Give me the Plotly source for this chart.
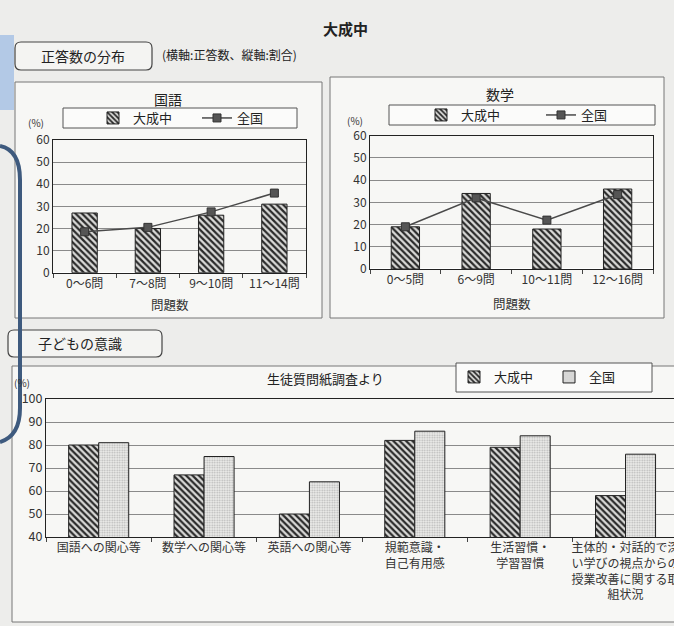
import plotly.graph_objects as go

W, H = 674, 626
FONT = "Noto Sans CJK JP"

# ---------------- data ----------------
kokugo_cats = ["0〜6問", "7〜8問", "9〜10問", "11〜14問"]
kokugo_school = [27, 20, 26, 31]
kokugo_nation = [18.5, 20.5, 27.5, 36]

math_cats = ["0〜5問", "6〜9問", "10〜11問", "12〜16問"]
math_school = [19, 34, 18, 36]
math_nation = [19, 32, 22, 33.5]

survey_cats = ["国語への関心等", "数学への関心等", "英語への関心等",
               "規範意識・<br>自己有用感", "生活習慣・<br>学習習慣",
               "主体的・対話的で深<br>い学びの視点からの<br>授業改善に関する取<br>組状況"]
survey_school = [80, 67, 50, 82, 79, 58]
survey_nation = [81, 75, 64, 86, 84, 76]

school_name = "大成中"
nation_name = "全国"


def X(px):
    return px / W


def Y(py):
    return 1 - py / H


hatch = dict(shape="\\", fgcolor="#2a2a2a", bgcolor="#dcdcda", size=4.5, solidity=0.5, fillmode="replace")
dots = dict(shape=".", fgcolor="#b4b4b4", bgcolor="#eeeeec", size=2.5, solidity=0.4, fillmode="replace")

fig = go.Figure()

fig.add_trace(go.Bar(x=kokugo_cats, y=kokugo_school, name=school_name, width=0.4,
                     marker=dict(pattern=hatch, line=dict(color="#222", width=1)),
                     xaxis="x", yaxis="y", legend="legend"))
fig.add_trace(go.Scatter(x=kokugo_cats, y=kokugo_nation, name=nation_name, mode="lines+markers",
                         line=dict(color="#4a4a4a", width=1.5),
                         marker=dict(symbol="square", size=8, color="#555", line=dict(color="#333", width=1)),
                         xaxis="x", yaxis="y", legend="legend"))
fig.add_trace(go.Bar(x=math_cats, y=math_school, name=school_name, width=0.4,
                     marker=dict(pattern=hatch, line=dict(color="#222", width=1)),
                     xaxis="x2", yaxis="y2", legend="legend2"))
fig.add_trace(go.Scatter(x=math_cats, y=math_nation, name=nation_name, mode="lines+markers",
                         line=dict(color="#4a4a4a", width=1.5),
                         marker=dict(symbol="square", size=8, color="#555", line=dict(color="#333", width=1)),
                         xaxis="x2", yaxis="y2", legend="legend2"))
fig.add_trace(go.Bar(x=survey_cats, y=survey_school, name=school_name, width=0.285, offset=-0.285,
                     marker=dict(pattern=hatch, line=dict(color="#222", width=1)),
                     xaxis="x3", yaxis="y3", legend="legend3"))
fig.add_trace(go.Bar(x=survey_cats, y=survey_nation, name=nation_name, width=0.285, offset=0,
                     marker=dict(pattern=dots, line=dict(color="#222", width=1)),
                     xaxis="x3", yaxis="y3", legend="legend3"))

axis_common = dict(showline=True, linecolor="#222", linewidth=1, mirror=True, automargin=False,
                   tickfont=dict(family=FONT, size=12, color="#333"), fixedrange=True)
xcat_common = dict(ticks="outside", tickson="boundaries", ticklen=4, tickcolor="#444",
                   showgrid=False, tickangle=0)

leg_common = dict(orientation="h", xanchor="center", yanchor="middle",
                  bgcolor="rgba(0,0,0,0)", borderwidth=0,
                  font=dict(family=FONT, size=13, color="#222"))

fig.update_layout(
    width=W, height=H, autosize=False,
    margin=dict(l=0, r=0, t=0, b=0, pad=0, autoexpand=False),
    paper_bgcolor="#ededeb",
    plot_bgcolor="#fbfbfa",
    font=dict(family=FONT, color="#333"),
    barmode="group",
    xaxis=dict(domain=[X(53), X(306)], anchor="y", **xcat_common, **axis_common),
    yaxis=dict(domain=[Y(272.7), Y(140)], anchor="x", range=[0, 60], dtick=10, ticks="",
               showgrid=True, gridcolor="#8a8a8a", gridwidth=1, **axis_common),
    xaxis2=dict(domain=[X(370), X(653)], anchor="y2", **xcat_common, **axis_common),
    yaxis2=dict(domain=[Y(269), Y(135.7)], anchor="x2", range=[0, 60], dtick=10, ticks="",
                showgrid=True, gridcolor="#8a8a8a", gridwidth=1, **axis_common),
    xaxis3=dict(domain=[X(46), 1], anchor="y3", range=[-0.5, 5.46], **xcat_common, **axis_common),
    yaxis3=dict(domain=[Y(537), Y(399)], anchor="x3", range=[40, 100], dtick=10, ticks="",
                showgrid=True, gridcolor="#8a8a8a", gridwidth=1, **axis_common),
    legend=dict(x=X(197), y=Y(118), entrywidth=59, **leg_common),
    legend2=dict(x=X(541), y=Y(115), entrywidth=75, **leg_common),
    legend3=dict(x=X(549), y=Y(377), entrywidth=50, **leg_common),
)
fig.update_layout(xaxis3=dict(tickfont=dict(size=12)), yaxis3=dict(tickfont=dict(size=12.5)))

shapes = []
frames = [(15, 82, 322, 318), (330, 77, 664, 318), (12, 366, 690, 622)]
for x0, y0, x1, y1 in frames:
    shapes.append(dict(type="rect", xref="paper", yref="paper", x0=X(x0), x1=X(x1), y0=Y(y1), y1=Y(y0),
                       line=dict(color="#777", width=1), fillcolor="#f7f7f5", layer="below"))
for x0, y0, x1, y1 in [(63, 108, 297, 128), (389, 105, 655, 125), (456, 363, 652, 392)]:
    shapes.append(dict(type="rect", xref="paper", yref="paper", x0=X(x0), x1=X(x1), y0=Y(y1), y1=Y(y0),
                       line=dict(color="#555", width=1), fillcolor="#fbfbfa", layer="below"))


def rounded(x0, y0, x1, y1, r=6):
    return (f"M {X(x0 + r)},{Y(y0)} L {X(x1 - r)},{Y(y0)} Q {X(x1)},{Y(y0)} {X(x1)},{Y(y0 + r)} "
            f"L {X(x1)},{Y(y1 - r)} Q {X(x1)},{Y(y1)} {X(x1 - r)},{Y(y1)} "
            f"L {X(x0 + r)},{Y(y1)} Q {X(x0)},{Y(y1)} {X(x0)},{Y(y1 - r)} "
            f"L {X(x0)},{Y(y0 + r)} Q {X(x0)},{Y(y0)} {X(x0 + r)},{Y(y0)} Z")


shapes.append(dict(type="path", xref="paper", yref="paper", path=rounded(15, 42, 152, 70),
                   line=dict(color="#444", width=1.2), fillcolor="#f4f4f2"))
shapes.append(dict(type="path", xref="paper", yref="paper", path=rounded(8, 330, 162, 357),
                   line=dict(color="#444", width=1.2), fillcolor="#f4f4f2"))
shapes.append(dict(type="rect", xref="paper", yref="paper", x0=0, x1=X(14), y0=Y(110), y1=Y(35),
                   line=dict(width=0), fillcolor="#b3c9e6"))
bracket = (f"M {X(0)},{Y(146)} Q {X(20)},{Y(150)} {X(20)},{Y(180)} L {X(20)},{Y(408)} "
           f"Q {X(20)},{Y(436)} {X(0)},{Y(442)}")
shapes.append(dict(type="path", xref="paper", yref="paper", path=bracket,
                   line=dict(color="#3e5a7e", width=4)))
fig.update_layout(shapes=shapes)

ann = []


def text(x, y, s, size=12, bold=False, anchor="center", color="#333"):
    ann.append(dict(x=X(x), y=Y(y), xref="paper", yref="paper", text=f"<b>{s}</b>" if bold else s,
                    showarrow=False, xanchor=anchor, yanchor="middle",
                    font=dict(family=FONT, size=size, color=color)))


text(345, 29, "大成中", size=15, bold=True, color="#222")
text(83, 56, "正答数の分布", size=14, color="#222")
text(160, 55, "(横軸:正答数、縦軸:割合)", size=12, anchor="left", color="#222")
text(168, 99, "国語", size=14, color="#222")
text(500, 94, "数学", size=14, color="#222")
text(36, 123, "(%)", size=10)
text(355, 120, "(%)", size=10)
text(170, 304, "問題数", size=12.5)
text(512, 303, "問題数", size=12.5)
text(80, 343, "子どもの意識", size=14, color="#222")
text(325, 378, "生徒質問紙調査より", size=13, color="#222")
text(22, 382, "(%)", size=10)
fig.update_layout(annotations=ann)

fig.write_html(
    "out.html",
    config={"displayModeBar": False},
    post_script=("document.documentElement.style.margin='0';document.body.style.margin='0';"
                 "document.body.style.overflow='hidden';"),
)
